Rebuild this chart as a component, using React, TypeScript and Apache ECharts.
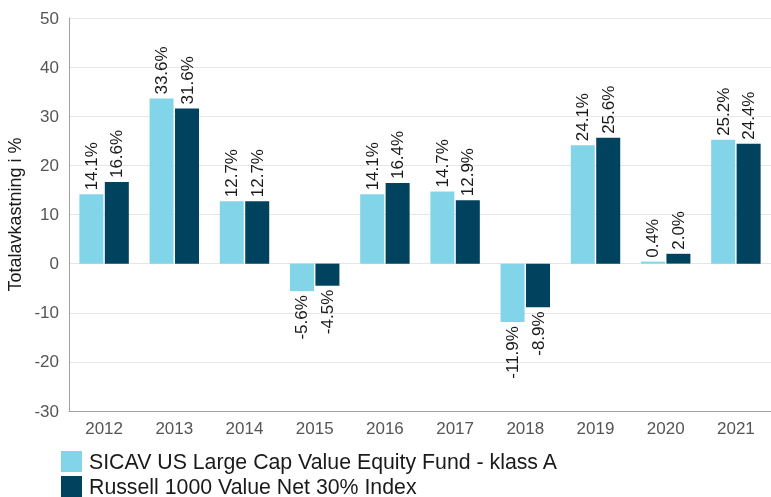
import React, { useEffect, useRef } from "react";
import * as echarts from "echarts";

const years = ["2012", "2013", "2014", "2015", "2016", "2017", "2018", "2019", "2020", "2021"];
const fundValues = [14.1, 33.6, 12.7, -5.6, 14.1, 14.7, -11.9, 24.1, 0.4, 25.2];
const indexValues = [16.6, 31.6, 12.7, -4.5, 16.4, 12.9, -8.9, 25.6, 2.0, 24.4];
const fundName = "SICAV US Large Cap Value Equity Fund - klass A";
const indexName = "Russell 1000 Value Net 30% Index";
const yAxisName = "Totalavkastning i %";

const FONT = "Liberation Sans, Arial, sans-serif";

function toData(values: number[]) {
  return values.map((v) => ({
    value: v,
    label: v < 0
      ? { position: "bottom", align: "right", verticalAlign: "middle" }
      : { position: "top", align: "left", verticalAlign: "middle" },
  }));
}

export default function App() {
  const ref = useRef<HTMLDivElement>(null);
  useEffect(() => {
    if (!ref.current) return;
    const chart = echarts.init(ref.current, undefined, { renderer: "svg" });
    const labelBase = {
      show: true,
      rotate: 90,
      distance: 4,
      fontSize: 17,
      fontFamily: FONT,
      color: "#1a1a1a",
      formatter: (p: any) => `${Number(p.value).toFixed(1)}%`,
    };
    const legendText = { fontSize: 21.3, color: "#1a1a1a", fontFamily: FONT, padding: [0, 0, 0, 2] };
    chart.setOption({
      animation: false,
      textStyle: { fontFamily: FONT },
      grid: { left: 69, right: 0, top: 18, bottom: 86, outerBoundsMode: "none", containLabel: false },
      legend: [
        {
          left: 61,
          top: 451,
          itemWidth: 21,
          itemHeight: 21,
          icon: "rect",
          padding: 0,
          textStyle: legendText,
          data: [fundName],
        },
        {
          left: 61,
          top: 476,
          itemWidth: 21,
          itemHeight: 21,
          icon: "rect",
          padding: 0,
          textStyle: legendText,
          data: [indexName],
        },
      ],
      xAxis: {
        type: "category",
        data: years,
        axisLine: { onZero: false, lineStyle: { color: "#a0a0a0" } },
        axisTick: { show: false },
        axisLabel: { fontSize: 17, color: "#555555", fontFamily: FONT, margin: 9 },
      },
      yAxis: {
        type: "value",
        min: -30,
        max: 50,
        interval: 10,
        name: yAxisName,
        nameLocation: "middle",
        nameGap: 45,
        nameTextStyle: { fontSize: 18, color: "#1a1a1a", fontFamily: FONT },
        axisLine: { show: true, lineStyle: { color: "#a0a0a0" } },
        axisTick: { show: false },
        axisLabel: { fontSize: 17, color: "#555555", fontFamily: FONT, margin: 10 },
        splitLine: { lineStyle: { color: "#e6e6e6" } },
      },
      series: [
        {
          name: fundName,
          type: "bar",
          data: toData(fundValues),
          barWidth: 24,
          barGap: "6%",
          itemStyle: { color: "#82d5e8" },
          label: labelBase,
        },
        {
          name: indexName,
          type: "bar",
          data: toData(indexValues),
          barWidth: 24,
          itemStyle: { color: "#01425f" },
          label: labelBase,
        },
      ],
    });
    return () => chart.dispose();
  }, []);
  return (
    <div
      ref={ref}
      style={{ position: "fixed", left: 0, top: 0, width: 771, height: 497 }}
    />
  );
}
